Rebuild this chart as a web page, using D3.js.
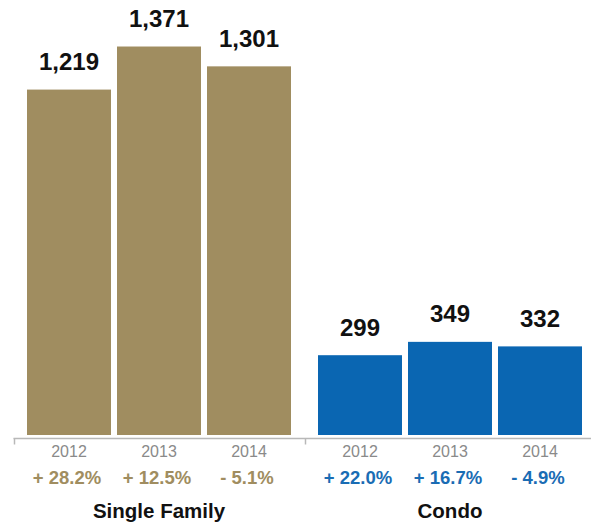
<!DOCTYPE html>
<html>
<head>
<meta charset="utf-8">
<script src="https://cdnjs.cloudflare.com/ajax/libs/d3/7.8.5/d3.min.js"></script>
<style>
  html, body { margin: 0; padding: 0; background: #fff; }
  svg { display: block; font-family: "Liberation Sans", Arial, Helvetica, sans-serif; }
</style>
</head>
<body>
<svg id="chart" width="591" height="526"></svg>
<script>
// Closed sales by property type, 2012–2014
const groups = ["Single Family", "Condo"];
const years = ["2012", "2013", "2014"];
const singleFamilyValues = [1219, 1371, 1301];
const condoValues = [299, 349, 332];
const singleFamilyChange = ["+ 28.2%", "+ 12.5%", "- 5.1%"];
const condoChange = ["+ 22.0%", "+ 16.7%", "- 4.9%"];
const groupColors = ["#a08d60", "#0a66b2"];
const changeColors = ["#a08d60", "#1a6cb4"];
// each panel has its own value axis
const axisMax = [1394, 1480];

const svg = d3.select("#chart");
const baseline = 435, plotTop = 40;

const xGroup = d3.scaleBand().domain(groups).range([27, 582]).paddingInner(27 / 291).paddingOuter(0);
const xYear = d3.scaleBand().domain(years).range([0, xGroup.bandwidth()]).paddingInner(6 / 90).paddingOuter(0);

const panels = groups.map((g, i) => ({
  name: g,
  values: i === 0 ? singleFamilyValues : condoValues,
  change: i === 0 ? singleFamilyChange : condoChange,
  color: groupColors[i],
  changeColor: changeColors[i],
  y: d3.scaleLinear().domain([0, axisMax[i]]).range([baseline, plotTop])
}));

// baseline axis
const gapHalf = (xGroup.step() - xGroup.bandwidth()) / 2;
svg.append("line")
  .attr("x1", xGroup(groups[0]) - gapHalf).attr("x2", 591)
  .attr("y1", 438.5).attr("y2", 438.5)
  .attr("stroke", "#b8b8b8").attr("stroke-width", 1.5);
groups.forEach(g => {
  const tx = Math.round(xGroup(g) - gapHalf) + 0.5;
  svg.append("line")
    .attr("x1", tx).attr("x2", tx).attr("y1", 438).attr("y2", 444.5)
    .attr("stroke", "#b8b8b8").attr("stroke-width", 1.5);
});

panels.forEach(p => {
  const g = svg.append("g").attr("transform", `translate(${xGroup(p.name)},0)`);
  const rows = years.map((yr, j) => ({ yr, v: p.values[j], c: p.change[j] }));

  g.selectAll("rect").data(rows).join("rect")
    .attr("x", d => xYear(d.yr))
    .attr("width", xYear.bandwidth())
    .attr("y", d => p.y(d.v))
    .attr("height", d => baseline - p.y(d.v))
    .attr("fill", p.color);

  g.selectAll("text.value").data(rows).join("text")
    .attr("class", "value")
    .attr("x", d => xYear(d.yr) + xYear.bandwidth() / 2)
    .attr("y", d => p.y(d.v) - 19.5)
    .attr("text-anchor", "middle")
    .attr("font-size", 24).attr("font-weight", "bold").attr("fill", "#111")
    .text(d => d3.format(",")(d.v));

  g.selectAll("text.year").data(rows).join("text")
    .attr("class", "year")
    .attr("x", d => xYear(d.yr) + xYear.bandwidth() / 2)
    .attr("y", 457)
    .attr("text-anchor", "middle")
    .attr("font-size", 16).attr("fill", "#8a8a8a")
    .text(d => d.yr);

  g.selectAll("text.change").data(rows).join("text")
    .attr("class", "change")
    .attr("x", d => xYear(d.yr) + xYear.bandwidth() / 2 - 2)
    .attr("y", 484)
    .attr("text-anchor", "middle")
    .attr("font-size", 18.5).attr("font-weight", "bold").attr("fill", p.changeColor)
    .text(d => d.c);

  g.append("text")
    .attr("x", xGroup.bandwidth() / 2)
    .attr("y", 517.5)
    .attr("text-anchor", "middle")
    .attr("font-size", 20.5).attr("font-weight", "bold").attr("fill", "#111")
    .text(p.name);
});
</script>
</body>
</html>
